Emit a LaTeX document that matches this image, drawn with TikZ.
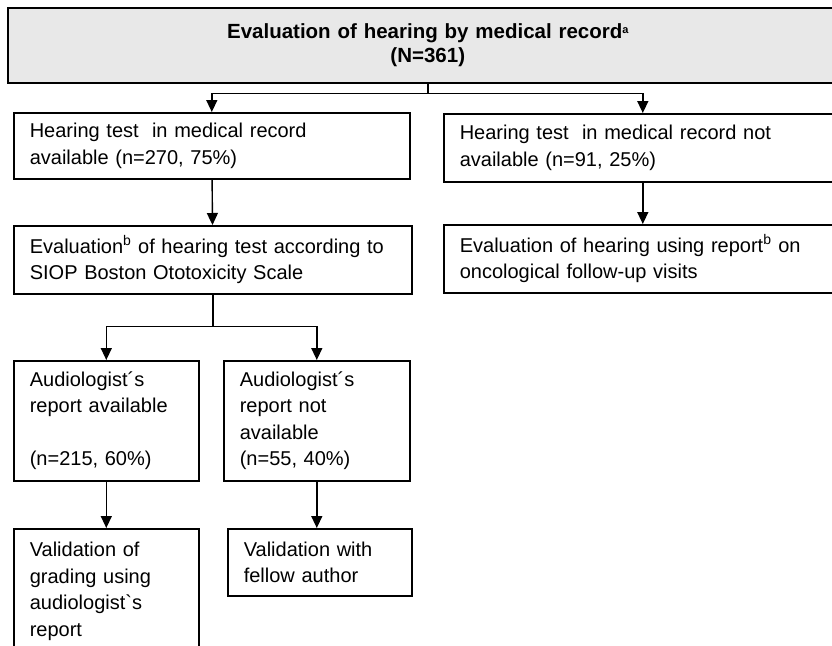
\documentclass[tikz,border=0pt]{standalone}
\usepackage{fontspec}
\setmainfont{Liberation Sans}
\usetikzlibrary{arrows.meta}
\tikzset{
  box/.style={draw, line width=1.6pt, rectangle, anchor=north west, inner xsep=16pt, inner ysep=0pt, align=left, font=\fontsize{20}{26.5}\selectfont},
  arr/.style={line width=1.4pt, -{Triangle[width=11pt,length=12pt]}},
  link/.style={line width=1.4pt},
}

\begin{document}
\begin{tikzpicture}[x=1pt,y=-1pt]
	\useasboundingbox (0,0) rectangle (832,645);
	\clip (0,0) rectangle (832,645);

	\node[box, fill=gray!18, align=center, text width=808pt, minimum height=75pt, font=\bfseries\fontsize{20.5}{24}\selectfont] (title) at (7,7)
		{Evaluation of hearing by medical record\raisebox{5pt}{\fontsize{11}{11}\selectfont a}\\(N=361)\\[-7pt]};

	\node[box, text width=364pt, minimum height=66pt] (avail) at (13,112)
		{Hearing test~ in medical record\\available (n=270, 75\%)};
	\node[box, text width=366pt, minimum height=68pt] (notavail) at (443,113)
		{Hearing test~ in medical record not\\available (n=91, 25\%)};

	\node[box, text width=366pt, minimum height=68pt] (grading) at (13,225)
		{Evaluation\textsuperscript{b} of hearing test according to\\SIOP Boston Ototoxicity Scale};
	\node[box, text width=366pt, minimum height=68pt] (report) at (443,224)
		{Evaluation of hearing using report\textsuperscript{b} on\\oncological follow-up visits};

	\node[box, text width=153pt, minimum height=120pt] (audyes) at (13,360)
		{Audiologist´s\\report available\\[26.5pt](n=215, 60\%)};
	\node[box, text width=154pt, minimum height=120pt] (audno) at (223,360)
		{Audiologist´s\\report not\\available\\(n=55, 40\%)};

	\node[box, text width=153pt, minimum height=125pt] (valid) at (13,528)
		{Validation of\\grading using\\audiologist\textasciigrave s\\report};
	\node[box, text width=152pt, minimum height=67pt] (fellow) at (227,528)
		{Validation with\\fellow author};

	% connectors
	\draw[link] (title.south) -- ++(0,10) coordinate (split1);
	\draw[arr] (split1) -| (avail.north);
	\draw[arr] (split1) -| (notavail.north);
	\draw[arr] (avail) -- (grading);
	\draw[arr] (notavail) -- (report);

	\draw[link] (grading.south) -- ++(0,32) coordinate (split2);
	\draw[arr] (split2) -| (audyes.north);
	\draw[arr] (split2) -| (audno.north);
	\draw[arr] (audyes) -- (valid);
	\draw[arr] (audno.south) -- (audno.south |- fellow.north);
\end{tikzpicture}
\end{document}
